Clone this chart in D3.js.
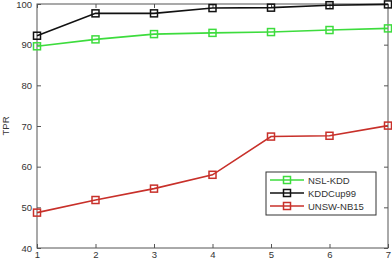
<!DOCTYPE html>
<html><head><meta charset="utf-8">
<script src="https://cdn.jsdelivr.net/npm/d3@7/dist/d3.min.js"></script>
<style>body{margin:0;background:#fff}svg{display:block}text{font-family:"Liberation Sans",Arial,sans-serif}</style>
</head><body>
<svg id="c" width="392" height="260"></svg>
<script>
const xValues = [1, 2, 3, 4, 5, 6, 7];
const nslKdd = [89.6, 91.3, 92.6, 92.9, 93.1, 93.6, 94.0];
const kddCup99 = [92.2, 97.7, 97.7, 99.0, 99.1, 99.7, 99.9];
const unswNb15 = [48.7, 51.8, 54.6, 58.0, 67.4, 67.6, 70.1];
const seriesNames = ["NSL-KDD", "KDDCup99", "UNSW-NB15"];
const seriesColors = ["#3ddc3d", "#111111", "#c8302a"];
const yTicks = [40, 50, 60, 70, 80, 90, 100];
const yLabel = "TPR";

const svg = d3.select("#c");
const m = {l: 37, r: 388, t: 4, b: 248};
const x = d3.scaleLinear().domain([1, 7]).range([m.l, m.r]);
const y = d3.scaleLinear().domain([40, 100]).range([m.b, m.t]);

const axisColor = "#555";
const g = svg.append("g");
const tl = 4;
const fmt = d3.format("d");
const ax = [
  d3.axisBottom(x).tickValues(xValues).tickSize(-tl).tickPadding(3).tickFormat(fmt),
  d3.axisTop(x).tickValues(xValues).tickSize(-tl).tickFormat(""),
  d3.axisLeft(y).tickValues(yTicks).tickSize(-tl).tickPadding(5).tickFormat(fmt),
  d3.axisRight(y).tickValues(yTicks).tickSize(-tl).tickFormat("")
];
const pos = [`translate(0,${m.b})`, `translate(0,${m.t})`, `translate(${m.l},0)`, `translate(${m.r},0)`];
ax.forEach((a, i) => {
  const ag = g.append("g").attr("transform", pos[i]).call(a);
  ag.select(".domain").remove();
  ag.selectAll("line").attr("stroke", axisColor);
  ag.selectAll("text").attr("fill", "#333").style("font-size", "9.5px");
});
g.append("rect").attr("x", m.l).attr("y", m.t).attr("width", m.r - m.l).attr("height", m.b - m.t)
  .attr("fill", "none").attr("stroke", axisColor).attr("stroke-width", 1);

svg.append("text").attr("transform", `translate(9,${(m.t + m.b) / 2}) rotate(-90)`)
  .attr("text-anchor", "middle").attr("fill", "#333").style("font-size", "9.5px").text(yLabel);

const data = [nslKdd, kddCup99, unswNb15];
const line = d3.line().x((d, i) => x(xValues[i])).y(d => y(d));
data.forEach((s, k) => {
  svg.append("path").datum(s).attr("d", line).attr("fill", "none")
    .attr("stroke", seriesColors[k]).attr("stroke-width", 1.6);
  svg.selectAll(null).data(s).enter().append("rect")
    .attr("x", (d, i) => x(xValues[i]) - 3.5).attr("y", d => y(d) - 3.5)
    .attr("width", 7).attr("height", 7).attr("fill", "none")
    .attr("stroke", seriesColors[k]).attr("stroke-width", 1.5);
});

const lg = svg.append("g");
lg.append("rect").attr("x", 266).attr("y", 172).attr("width", 110).attr("height", 43)
  .attr("fill", "#fff").attr("stroke", "#333").attr("stroke-width", 1);
seriesNames.forEach((n, k) => {
  const yy = 180 + k * 13;
  lg.append("line").attr("x1", 270).attr("x2", 304).attr("y1", yy).attr("y2", yy)
    .attr("stroke", seriesColors[k]).attr("stroke-width", 1.6);
  lg.append("rect").attr("x", 283.5).attr("y", yy - 3.5).attr("width", 7).attr("height", 7)
    .attr("fill", "none").attr("stroke", seriesColors[k]).attr("stroke-width", 1.5);
  lg.append("text").attr("x", 308).attr("y", yy + 3.5).attr("fill", "#333")
    .style("font-size", "9.5px").text(n);
});
</script>
</body></html>
